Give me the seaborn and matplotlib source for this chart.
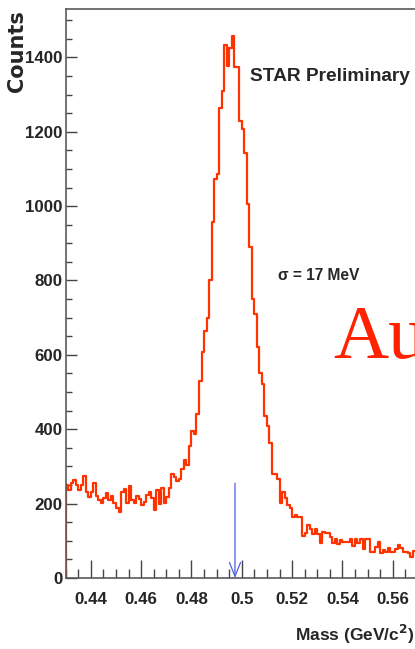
import numpy as np
import pandas as pd
import matplotlib
matplotlib.use("Agg")
import matplotlib.pyplot as plt
from matplotlib.ticker import FixedLocator, MultipleLocator
import seaborn as sns

# K0s -> pi+ pi- invariant-mass spectrum, 1 MeV/c^2 bins from 0.430 GeV/c^2
mass_start = 0.430
bin_width = 0.001
underflow = [0]
counts = [
    250, 236, 255, 263, 250, 236, 250, 274, 232, 218,
    232, 256, 220, 209, 202, 214, 228, 209, 220, 202,
    188, 178, 232, 238, 202, 247, 209, 202, 220, 212,
    196, 205, 223, 232, 214, 183, 236, 199, 241, 202,
    218, 241, 279, 272, 261, 265, 292, 317, 303, 354,
    395, 388, 442, 531, 607, 663, 699, 802, 957, 1073,
    1087, 1265, 1310, 1433, 1377, 1426, 1458, 1373, 1373, 1228,
    1208, 1142, 1006, 889, 749, 711, 621, 550, 523, 435,
    408, 362, 279, 279, 265, 202, 232, 214, 196, 187,
    163, 169, 163, 163, 113, 122, 142, 133, 118, 133,
    118, 93, 123, 120, 120, 111, 95, 106, 91, 102,
    97, 97, 97, 104, 86, 104, 93, 104, 77, 106,
    106, 71, 71, 84, 97, 68, 75, 71, 80, 71,
    71, 77, 89, 80, 71, 71, 66, 57, 73,
]
x_ticks = [0.44, 0.46, 0.48, 0.50, 0.52, 0.54, 0.56]
x_tick_labels = ["0.44", "0.46", "0.48", "0.5", "0.52", "0.54", "0.56"]
y_ticks = [0, 200, 400, 600, 800, 1000, 1200, 1400]
y_tick_labels = ["0", "200", "400", "600", "800", "1000", "1200", "1400"]
kaon_mass = 0.4973
arrow_top = 255
x_range = (0.430, 0.600)
y_range = (0, 1530)

values = underflow + counts
edges = [mass_start + bin_width * i for i in range(-len(underflow), len(counts) + 1)]
centers = [(a + b) / 2 for a, b in zip(edges[:-1], edges[1:])]
df = pd.DataFrame({"mass": centers, "counts": values})

sns.set_style("ticks")
plt.rcParams["font.family"] = ["Liberation Sans", "DejaVu Sans"]
plt.rcParams["font.weight"] = "bold"

fig = plt.figure(figsize=(4.15, 6.49), dpi=100)
ax = fig.add_axes([0.1583, 0.1094, 1.0304, 0.8767])

sns.histplot(data=df, x="mass", weights="counts", bins=edges, element="step",
             fill=False, color="#ff3300", linewidth=1.6, ax=ax)

ax.annotate("", xy=(kaon_mass, 0), xytext=(kaon_mass, arrow_top),
            arrowprops=dict(arrowstyle="->,head_length=1.0,head_width=0.4",
                            color="#4f5fe0", lw=0.9, shrinkA=0, shrinkB=0))

ax.set_xlim(*x_range)
ax.set_ylim(*y_range)

ax.xaxis.set_major_locator(FixedLocator(x_ticks))
ax.set_xticklabels(x_tick_labels)
ax.xaxis.set_minor_locator(MultipleLocator(0.005))
ax.yaxis.set_major_locator(FixedLocator(y_ticks))
ax.set_yticklabels(y_tick_labels)
ax.yaxis.set_minor_locator(MultipleLocator(50))

ax.tick_params(axis="x", which="major", direction="in", length=13, width=1.0,
               color="#444444", pad=10, labelsize=12.2)
ax.tick_params(axis="x", which="minor", direction="in", length=6.5, width=1.0,
               color="#444444")
ax.tick_params(axis="y", which="major", direction="in", length=8, width=1.0,
               color="#444444", pad=2, labelsize=12.2)
ax.tick_params(axis="y", which="minor", direction="in", length=4.3, width=1.0,
               color="#444444")
for lab in ax.get_xticklabels() + ax.get_yticklabels():
    lab.set_fontweight("bold")

for side in ["left", "bottom", "top", "right"]:
    ax.spines[side].set_visible(True)
    ax.spines[side].set_color("#5a5a5a")
    ax.spines[side].set_linewidth(1.2)

ax.set_ylabel("Counts", fontsize=15, fontweight="bold", ha="right", va="center",
              family=["DejaVu Sans"])
ax.yaxis.set_label_coords(-0.1140, 0.998)
ax.set_xlabel("Mass (GeV/c$^{\\mathbf{2}}$)", fontsize=12.5, fontweight="bold",
              ha="right", va="baseline")
ax.xaxis.set_label_coords((414 - 65.7) / (1.0304 * 415), -0.1107)

ax.text(0.5033, 1337, "STAR Preliminary", fontsize=13.8, fontweight="bold",
        ha="left", va="baseline")
ax.text(0.5144, 800, "σ = 17 MeV", fontsize=11.2, fontweight="bold",
        ha="left", va="baseline")
ax.text(0.5365, 591, "Au", fontsize=55, family=["Liberation Serif", "DejaVu Serif"],
        fontweight="normal", color="#ff2200", ha="left", va="baseline")

fig.savefig("out.png", dpi=100)
